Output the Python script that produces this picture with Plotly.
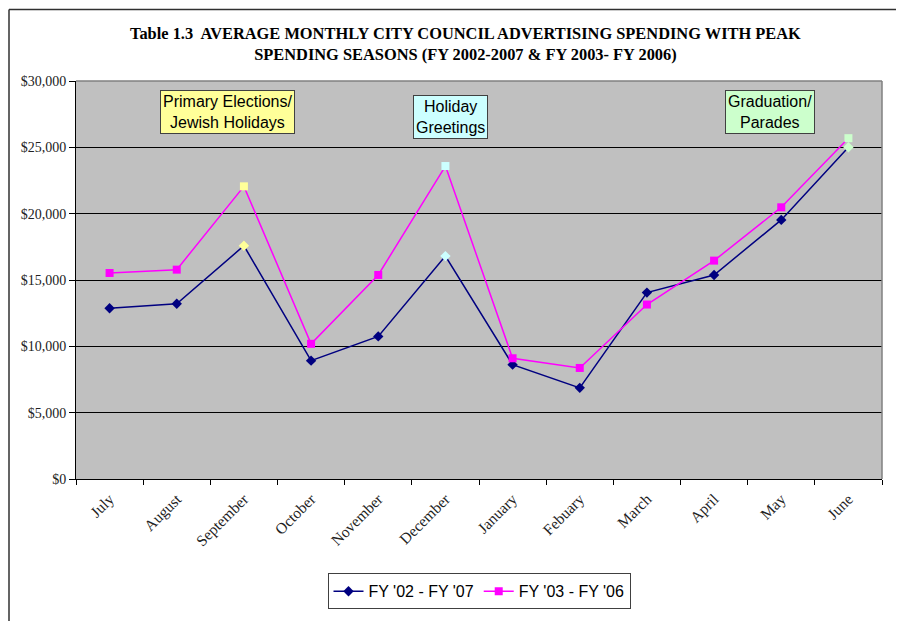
import plotly.graph_objects as go

months = ["July", "August", "September", "October", "November", "December",
          "January", "Febuary", "March", "April", "May", "June"]
fy02_07 = [12870, 13210, 17580, 8920, 10750, 16800, 8620, 6870, 14050, 15380, 19530, 25010]
fy03_06 = [15530, 15780, 22060, 10190, 15380, 23590, 9100, 8370, 13150, 16460, 20480, 25690]
y_ticks = [0, 5000, 10000, 15000, 20000, 25000, 30000]
y_tick_labels = ["$0", "$5,000", "$10,000", "$15,000", "$20,000", "$25,000", "$30,000"]

season_colors = {"September": "#FFFF99", "December": "#CCFFFF", "June": "#CCFFCC"}
blue_colors = [season_colors.get(m, "#000080") for m in months]
pink_colors = [season_colors.get(m, "#FF00FF") for m in months]

seasons = [
    {"text": "Primary Elections/<br>Jewish Holidays", "x": 1.75, "y": 27650, "bg": "#FFFF99"},
    {"text": "Holiday<br>Greetings", "x": 5.08, "y": 27280, "bg": "#CCFFFF"},
    {"text": "Graduation/<br>Parades", "x": 9.83, "y": 27650, "bg": "#CCFFCC"},
]

fig = go.Figure()
fig.add_trace(go.Scatter(
    x=months, y=fy02_07, mode="lines+markers", name="FY '02 - FY '07",
    line=dict(color="#000080", width=1.5),
    marker=dict(symbol="diamond", size=8, color=blue_colors, line=dict(width=0)),
))
fig.add_trace(go.Scatter(
    x=months, y=fy03_06, mode="lines+markers", name="FY '03 - FY '06",
    line=dict(color="#FF00FF", width=1.5),
    marker=dict(symbol="square", size=8, color=pink_colors, line=dict(width=0)),
))

for s in seasons:
    fig.add_annotation(
        x=s["x"], y=s["y"], xref="x", yref="y", text=s["text"], showarrow=False,
        font=dict(family="Liberation Sans, Arial", size=16, color="#000000"),
        bgcolor=s["bg"], bordercolor="#404040", borderwidth=1, borderpad=2,
    )

# page has an 8px body margin, so the figure is drawn 8px in from the corner
OFF = 8
W, H = 904 - OFF, 621 - OFF
L, T = 76 - OFF, 81 - OFF
R = W - (882 - OFF)
B = H - (481.5 - OFF)
pw, ph = W - L - R, H - T - B


def px(x):
    return (x - OFF - L) / pw


def py(y):
    return (H - B - (y - OFF)) / ph


fig.add_annotation(
    x=px(465), y=py(43.5), xref="paper", yref="paper", xanchor="center", yanchor="middle",
    text="<b>Table 1.3  AVERAGE MONTHLY CITY COUNCIL ADVERTISING SPENDING WITH PEAK<br>SPENDING SEASONS (FY 2002-2007 &amp; FY 2003- FY 2006)</b>",
    showarrow=False, align="center",
    font=dict(family="Liberation Serif, Times New Roman", size=16.4, color="#000000"),
)

# outer frame (top and left)
fx0 = px(9)
fy1 = py(9)
fig.add_shape(type="line", xref="paper", yref="paper", x0=fx0, x1=px(920), y0=fy1, y1=fy1,
              line=dict(color="#303030", width=1.5))
fig.add_shape(type="line", xref="paper", yref="paper", x0=fx0, x1=fx0, y0=fy1, y1=py(640),
              line=dict(color="#303030", width=1.5))
# plot area top/right border
fig.add_shape(type="line", xref="paper", yref="paper", x0=0, x1=1, y0=1, y1=1,
              line=dict(color="#808080", width=1.5))
fig.add_shape(type="line", xref="paper", yref="paper", x0=1, x1=1, y0=0, y1=1,
              line=dict(color="#808080", width=1.5))

fig.update_layout(
    width=W, height=H,
    margin=dict(l=L, r=R, t=T, b=B),
    paper_bgcolor="#FFFFFF",
    plot_bgcolor="#C0C0C0",
    showlegend=True,
    legend=dict(
        orientation="h", x=px(479), xanchor="center", y=py(594.5), yanchor="middle",
        bgcolor="#FFFFFF", bordercolor="#404040", borderwidth=1,
        font=dict(family="Liberation Sans, Arial", size=16, color="#000000"),
        itemwidth=30,
    ),
)
fig.update_xaxes(
    type="category", categoryorder="array", categoryarray=months,
    range=[-0.5, len(months) - 0.5],
    showline=True, linecolor="#000000", linewidth=1,
    ticks="outside", ticklen=5, tickcolor="#000000", tickson="boundaries",
    tickangle=-45, showgrid=False, ticklabelstandoff=4,
    tickfont=dict(family="Liberation Serif, Times New Roman", size=15.5, color="#222222"),
)
fig.update_yaxes(
    range=[0, 30000], tickvals=y_ticks, ticktext=y_tick_labels,
    showline=True, linecolor="#000000", linewidth=1,
    ticks="outside", ticklen=6, tickcolor="#000000",
    showgrid=True, gridcolor="#000000", gridwidth=1, zeroline=False,
    tickfont=dict(family="Liberation Serif, Times New Roman", size=14, color="#222222"),
)

fig.write_html("out.html")
